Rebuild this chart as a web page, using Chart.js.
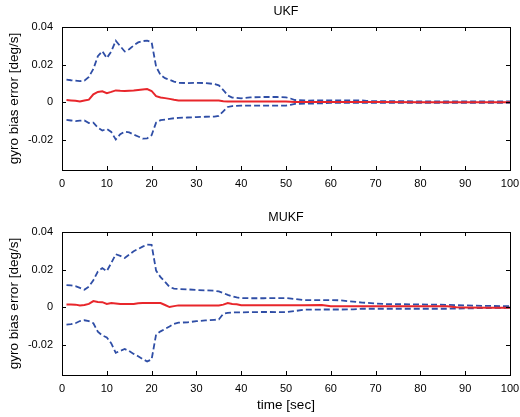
<!DOCTYPE html>
<html>
<head>
<meta charset="utf-8">
<script src="https://cdn.jsdelivr.net/npm/chart.js@4/dist/chart.umd.min.js"></script>
<style>
  body { margin: 0; background: #fff; width: 520px; height: 417px; position: relative; overflow: hidden; }
  canvas { position: absolute; left: 0; }
  #ukfChart { top: 0; }
  #mukfChart { top: 205px; }
</style>
</head>
<body>
<canvas id="ukfChart" width="520" height="200"></canvas>
<canvas id="mukfChart" width="520" height="212"></canvas>
<script>
var xTicks = [0, 10, 20, 30, 40, 50, 60, 70, 80, 90, 100];
var yTicks = [-0.02, 0, 0.02, 0.04];

// UKF panel
var ukfTime = [1,2,3,4,5,6,7,8,9,10,11,12,13,14,15,16,17,18,19,20,21,22,23,24,25,26,
  28,30,32,34,35,36,37,38,40,42,45,48,50,51,52,55,58,60,65,67,68,70,80,90,100];
var ukfError = [0.0012,0.001,0.0008,0.0004,0.0009,0.0014,0.0042,0.0055,0.0058,0.0048,0.0055,0.0063,0.0061,
  0.006,0.0061,0.0062,0.0065,0.0068,0.007,0.006,0.0032,0.0025,0.0022,0.0018,0.0013,0.001,
  0.0009,0.0009,0.0009,0.0009,0.0009,0.0005,0.0004,0.0004,0.0004,0.0004,
  0.0004,0.0004,0.0004,0.0003,0.0001,0.0001,0.0001,0.0001,
  0.0001,0.0001,0.0001,0.0001,0.0,0.0,0.0];
var ukfUpper = [0.012,0.0117,0.0115,0.0112,0.0115,0.0135,0.0177,0.0245,0.0272,0.0235,0.027,0.0327,0.0298,
  0.027,0.0282,0.0302,0.0318,0.0325,0.0328,0.032,0.019,0.0145,0.0128,0.012,0.011,0.0103,
  0.0102,0.0103,0.0102,0.0097,0.009,0.0065,0.0036,0.0025,0.0021,0.0026,
  0.0028,0.0028,0.0026,0.002,0.0012,0.0009,0.001,0.001,
  0.001,0.001,0.0007,0.0006,0.0005,0.0005,0.0004];
var ukfLower = [-0.0094,-0.0097,-0.01,-0.0098,-0.0097,-0.011,-0.0108,-0.0135,-0.015,-0.0142,-0.0158,-0.0198,-0.017,
  -0.0156,-0.016,-0.0172,-0.0182,-0.0193,-0.0192,-0.0175,-0.0108,-0.0095,-0.0092,-0.0088,-0.0085,-0.0083,
  -0.0081,-0.0079,-0.0077,-0.0076,-0.0072,-0.0048,-0.0025,-0.002,-0.0018,-0.0018,
  -0.0018,-0.0018,-0.0018,-0.0014,-0.0009,-0.0007,-0.0006,-0.0003,
  -0.0003,-0.0003,-0.0003,-0.0003,-0.0003,-0.0003,-0.0003];

// MUKF panel
var mukfTime = [1,2,3,4,5,6,7,8,9,10,11,12,13,14,15,16,17,18,19,20,21,22,23,24,25,26,
  28,30,32,34,35,36,37,38,39,40,42,45,50,52,54,58,60,62,65,67,70,72,80,86,88,90,95,100];
var mukfError = [0.0015,0.0015,0.0014,0.001,0.0012,0.0018,0.0033,0.0028,0.0027,0.0018,0.0022,0.002,0.0017,
  0.0017,0.0017,0.0017,0.0021,0.0022,0.0022,0.0022,0.0022,0.0022,0.0012,0.0001,0.0006,0.001,
  0.001,0.001,0.001,0.001,0.001,0.0014,0.0022,0.0017,0.0016,0.0011,
  0.0011,0.0011,0.0011,0.0011,0.0011,0.0012,0.0006,0.0005,
  0.0005,0.0005,0.0005,0.0005,0.0005,0.0005,0.0,-0.0001,-0.0002,-0.0002];
var mukfUpper = [0.0118,0.0116,0.0112,0.0103,0.0093,0.011,0.0144,0.019,0.0208,0.0192,0.0235,0.0282,0.0273,
  0.0262,0.028,0.0298,0.031,0.0322,0.0333,0.0332,0.0195,0.016,0.0135,0.0108,0.0099,0.0097,
  0.0095,0.0092,0.009,0.0088,0.0084,0.0075,0.0066,0.0058,0.0052,0.0049,
  0.0048,0.0048,0.0049,0.0044,0.0038,0.0038,0.0038,0.0037,
  0.003,0.0025,0.002,0.0017,0.0015,0.0013,0.0011,0.001,0.0007,0.0006];
var mukfLower = [-0.0092,-0.009,-0.0085,-0.0073,-0.0069,-0.0074,-0.0085,-0.013,-0.015,-0.016,-0.0192,-0.0242,-0.0232,
  -0.0222,-0.0233,-0.0248,-0.026,-0.0275,-0.0288,-0.0278,-0.0145,-0.0128,-0.0115,-0.0102,-0.0088,-0.0082,
  -0.008,-0.0074,-0.007,-0.0067,-0.0065,-0.0035,-0.003,-0.0028,-0.0027,-0.0027,
  -0.0026,-0.0025,-0.0026,-0.002,-0.0013,-0.0012,-0.0012,-0.0012,
  -0.0011,-0.0008,-0.0008,-0.0008,-0.0008,-0.0008,-0.0007,-0.0006,-0.0004,-0.0002];

var red = '#e8262b';
var blue = '#2f4ea6';
var fontFamily = '"Liberation Sans", Arial, Helvetica, sans-serif';

function pts(t, v) {
  return t.map(function (x, i) { return { x: x, y: v[i] }; });
}

// MATLAB style box with inward ticks, title centred over the axes
var boxTicks = {
  id: 'boxTicks',
  afterDraw: function (chart, args, opts) {
    var ctx = chart.ctx, a = chart.chartArea;
    var xs = chart.scales.x, ys = chart.scales.y;
    ctx.save();
    ctx.strokeStyle = '#000';
    ctx.lineWidth = 1;
    ctx.strokeRect(Math.round(a.left) + 0.5, Math.round(a.top) + 0.5,
      Math.round(a.right - a.left), Math.round(a.bottom - a.top));
    ctx.beginPath();
    xs.ticks.forEach(function (t) {
      var px = Math.round(xs.getPixelForValue(t.value)) + 0.5;
      ctx.moveTo(px, a.bottom); ctx.lineTo(px, a.bottom - 4);
      ctx.moveTo(px, a.top); ctx.lineTo(px, a.top + 4);
    });
    ys.ticks.forEach(function (t) {
      var py = Math.round(ys.getPixelForValue(t.value)) + 0.5;
      ctx.moveTo(a.left, py); ctx.lineTo(a.left + 4, py);
      ctx.moveTo(a.right, py); ctx.lineTo(a.right - 4, py);
    });
    ctx.stroke();
    ctx.fillStyle = '#000';
    ctx.font = '12.5px ' + fontFamily;
    ctx.textAlign = 'center';
    ctx.textBaseline = 'middle';
    ctx.fillText(opts.text, (a.left + a.right) / 2, opts.y);
    ctx.restore();
  }
};

function makeChart(id, title, titleY, time, err, up, low, showXTitle, xHeight) {
  return new Chart(document.getElementById(id), {
    type: 'line',
    data: {
      datasets: [
        { data: pts(time, err), borderColor: red, borderWidth: 2 },
        { data: pts(time, up), borderColor: blue, borderWidth: 1.8, borderDash: [6, 3] },
        { data: pts(time, low), borderColor: blue, borderWidth: 1.8, borderDash: [6, 3] }
      ]
    },
    options: {
      responsive: false,
      animation: false,
      elements: { point: { radius: 0 }, line: { tension: 0 } },
      layout: { padding: { top: 27, right: 10, left: 0, bottom: 0 } },
      plugins: {
        legend: { display: false },
        tooltip: { enabled: false },
        boxTicks: { text: title, y: titleY }
      },
      scales: {
        x: {
          type: 'linear',
          min: 0,
          max: 100,
          afterBuildTicks: function (s) { s.ticks = xTicks.map(function (v) { return { value: v }; }); },
          afterFit: function (s) {
            s.height = xHeight;
            s.paddingLeft = 0;
            s.paddingRight = 0;
          },
          grid: { display: false, drawTicks: false },
          border: { display: false },
          ticks: {
            color: '#000',
            padding: 7,
            maxRotation: 0,
            font: { family: fontFamily, size: 11 }
          },
          title: {
            display: showXTitle,
            text: 'time [sec]',
            color: '#000',
            font: { family: fontFamily, size: 13.5 },
            padding: { top: 0, bottom: 4 }
          }
        },
        y: {
          min: -0.036,
          max: 0.04,
          afterBuildTicks: function (s) { s.ticks = yTicks.map(function (v) { return { value: v }; }); },
          afterFit: function (s) {
            s.width = 62;
            s.paddingTop = 0;
            s.paddingBottom = 0;
          },
          grid: { display: false, drawTicks: false },
          border: { display: false },
          ticks: {
            color: '#000',
            padding: 9,
            font: { family: fontFamily, size: 11 },
            callback: function (v) { return String(v); }
          },
          title: {
            display: true,
            text: 'gyro bias error [deg/s]',
            color: '#000',
            font: { family: fontFamily, size: 13.5 },
            padding: { top: 6, bottom: 0 }
          }
        }
      }
    },
    plugins: [boxTicks]
  });
}

makeChart('ukfChart', 'UKF', 12, ukfTime, ukfError, ukfUpper, ukfLower, false, 30);
makeChart('mukfChart', 'MUKF', 13, mukfTime, mukfError, mukfUpper, mukfLower, true, 42);
</script>
</body>
</html>
